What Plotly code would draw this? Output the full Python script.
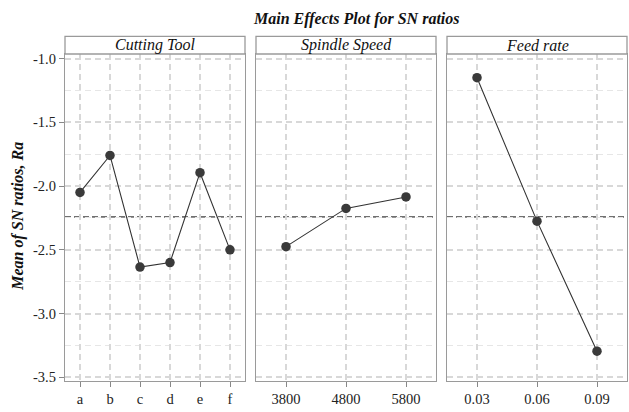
import numpy as np
import plotly.graph_objects as go

# ---- data ----
factor_names = ["Cutting Tool", "Spindle Speed", "Feed rate"]
tool_levels = ["a", "b", "c", "d", "e", "f"]
tool_means = [-2.05, -1.76, -2.635, -2.60, -1.895, -2.50]
speed_levels = ["3800", "4800", "5800"]
speed_means = [-2.475, -2.175, -2.085]
feed_levels = ["0.03", "0.06", "0.09"]
feed_means = [-1.15, -2.275, -3.295]

y_tick_vals = [-1.0, -1.5, -2.0, -2.5, -3.0, -3.5]
y_tick_text = ["-1.0", "-1.5", "-2.0", "-2.5", "-3.0", "-3.5"]

levels = [tool_levels, speed_levels, feed_levels]
means = [tool_means, speed_means, feed_means]
grand_mean = float(np.mean([np.mean(m) for m in means]))

W, H = 629, 412
FONT = "Liberation Serif"
panel_px = [(65, 245), (256, 436), (447, 627)]
plot_top, plot_bot = 52, 385
strip_top = 34

def fx(px):
    return px / W

def fy(py):
    return (H - py) / H

fig = go.Figure()
layout_axes = {}
shapes = []
annotations = []

for i, (lev, val) in enumerate(zip(levels, means)):
    n = i + 1
    xa = "x" if n == 1 else f"x{n}"
    ya = "y" if n == 1 else f"y{n}"
    fig.add_trace(go.Scatter(
        x=lev, y=val, mode="lines+markers",
        line=dict(color="#333333", width=1.1),
        marker=dict(color="#3a3a3a", size=9.5),
        xaxis=xa, yaxis=ya, showlegend=False, hoverinfo="x+y"))
    x0, x1 = panel_px[i]
    xkey = "xaxis" if n == 1 else f"xaxis{n}"
    ykey = "yaxis" if n == 1 else f"yaxis{n}"
    layout_axes[xkey] = dict(
        domain=[fx(x0), fx(x1)], anchor=ya, type="category",
        categoryorder="array", categoryarray=lev,
        range=[-0.5, len(lev) - 0.5],
        showgrid=True, gridcolor="#d8d8d8", griddash="6px,4px", gridwidth=1.5,
        showline=True, linecolor="#9a9a9a", linewidth=1.3, mirror=True,
        ticks="outside", ticklen=5, tickcolor="#888888",
        tickfont=dict(family=FONT, size=14.5, color="#222222"),
        zeroline=False, fixedrange=True)
    layout_axes[ykey] = dict(
        domain=[fy(plot_bot), fy(plot_top)], anchor=xa,
        range=[-3.525, -0.964],
        tickvals=y_tick_vals, ticktext=y_tick_text,
        showticklabels=(n == 1),
        ticks="outside" if n == 1 else "", ticklen=5, tickcolor="#888888",
        tickfont=dict(family=FONT, size=14.5, color="#222222"),
        showgrid=True, gridcolor="#d8d8d8", griddash="6px,4px", gridwidth=1.5,
        minor=dict(dtick=0.25, tick0=0, showgrid=True, gridcolor="#e6e6e6",
                   griddash="6px,4px", gridwidth=1.2, ticks=""),
        showline=True, linecolor="#9a9a9a", linewidth=1.3, mirror=True,
        zeroline=False, fixedrange=True)
    # mean reference line
    shapes.append(dict(type="line", xref=f"{xa} domain", yref=ya,
                       x0=0, x1=1, y0=grand_mean, y1=grand_mean,
                       line=dict(color="#707070", width=1.6, dash="6px,3px"),
                       layer="below"))
    # strip
    shapes.append(dict(type="rect", xref="paper", yref="paper",
                       x0=fx(x0), x1=fx(x1), y0=fy(plot_top), y1=fy(strip_top),
                       fillcolor="white", line=dict(color="#9a9a9a", width=1.3)))
    annotations.append(dict(text=f"<i>{factor_names[i]}</i>", xref="paper", yref="paper",
                            x=fx((x0 + x1) / 2), y=fy((plot_top + strip_top) / 2),
                            xanchor="center", yanchor="middle", showarrow=False,
                            font=dict(family=FONT, size=16, color="#111111")))

annotations.append(dict(text="<b><i>Main Effects Plot for SN ratios</i></b>",
                        xref="paper", yref="paper", x=fx(356), y=fy(16),
                        xanchor="center", yanchor="middle", showarrow=False,
                        font=dict(family=FONT, size=16, color="#111111")))
annotations.append(dict(text="<b><i>Mean of SN ratios, Ra</i></b>",
                        xref="paper", yref="paper", x=fx(18), y=fy(218),
                        xanchor="center", yanchor="middle", showarrow=False,
                        textangle=-90,
                        font=dict(family=FONT, size=16, color="#111111")))

fig.update_layout(
    width=W, height=H,
    margin=dict(l=0, r=0, t=0, b=0),
    paper_bgcolor="white", plot_bgcolor="white",
    shapes=shapes, annotations=annotations,
    **layout_axes)

fig.write_html("out.html", config={"displayModeBar": False},
               post_script="document.body.style.margin='0';document.body.style.overflow='hidden';")
